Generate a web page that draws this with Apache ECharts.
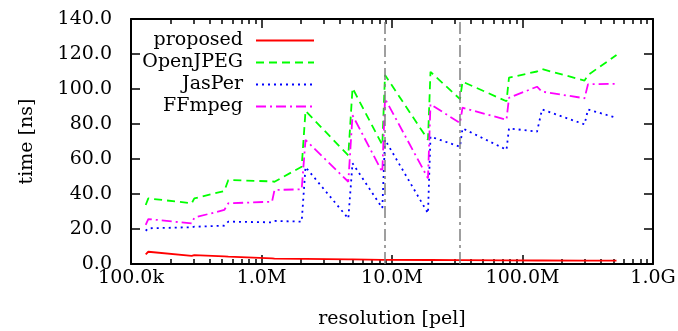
<!DOCTYPE html>
<html>
<head>
<meta charset="utf-8">
<script src="https://cdn.jsdelivr.net/npm/echarts@6/dist/echarts.min.js"></script>
<style>
html,body{margin:0;padding:0;background:#fff;}
#c{width:678px;height:331px;}
</style>
</head>
<body>
<div id="c"></div>
<script>
const resolution = [1.296e5, 1.357e5, 2.918e5, 3.056e5, 5.186e5, 5.568e5, 1.204e6, 1.258e6, 2.032e6, 2.174e6, 4.626e6, 4.983e6, 8.43e6, 8.84e6, 1.887e7, 1.972e7, 3.32e7, 3.47e7, 7.54e7, 7.88e7, 1.292e8, 1.411e8, 2.987e8, 3.176e8, 5.252e8];
const proposed = [5.5, 7.0, 4.6, 5.1, 4.3, 4.2, 3.2, 3.1, 2.9, 2.9, 2.6, 2.6, 2.4, 2.4, 2.3, 2.3, 2.2, 2.2, 2.1, 2.1, 2.0, 2.0, 1.9, 1.9, 1.9];
const openjpeg = [33.7, 37.5, 34.7, 37.5, 41.7, 48.0, 47.2, 47.0, 55.6, 87.5, 62.0, 100.5, 68.0, 108.0, 71.0, 109.8, 94.2, 104.2, 93.0, 106.5, 110.0, 111.4, 104.8, 108.0, 119.4];
const jasper = [19.0, 20.4, 21.0, 21.3, 21.9, 24.2, 23.8, 24.6, 24.2, 55.4, 26.0, 57.6, 32.0, 71.0, 29.0, 72.8, 67.0, 77.5, 65.3, 77.5, 75.6, 88.3, 79.8, 88.3, 83.5];
const ffmpeg = [22.3, 25.7, 23.2, 26.5, 30.9, 34.7, 35.6, 42.3, 42.7, 70.9, 47.0, 85.0, 52.5, 94.5, 49.0, 91.3, 80.5, 89.3, 82.4, 95.0, 101.3, 98.5, 94.7, 102.7, 103.0];
const markerRes = [8.84e6, 3.32e7];
const xMajorTicks = [1e5, 1e6, 1e7, 1e8, 1e9];
const xTickLabels = ['100.0k', '1.0M', '10.0M', '100.0M', '1.0G'];
const seriesNames = ['proposed', 'OpenJPEG', 'JasPer', 'FFmpeg'];

const xMinorTicks = [];
for (let d = 1e5; d < 1e9; d *= 10) for (let k = 2; k <= 9; k++) xMinorTicks.push(d * k);

const FONT = 'DejaVu Serif';
const fs = 19;
const frame = {show: true, lineStyle: {color: '#000', width: 2}};

function pairs(arr) { return resolution.map((x, i) => [x, arr[i]]); }

const chart = echarts.init(document.getElementById('c'));
const baseX = {type: 'log', logBase: 10, min: 1e5, max: 1e9, splitLine: {show: false}};
chart.setOption({
  animation: false,
  backgroundColor: '#fff',
  textStyle: {fontFamily: FONT},
  grid: {left: 131, right: 25, top: 19, bottom: 67, outerBoundsMode: 'none', containLabel: false},
  legend: {
    orient: 'vertical', align: 'right', right: 358, top: 26,
    itemWidth: 58, itemHeight: 14, itemGap: 3,
    itemStyle: {opacity: 0},
    textStyle: {fontFamily: FONT, fontSize: fs, lineHeight: 19, color: '#000', padding: [0, 8, 0, 0]},
    data: seriesNames
  },
  xAxis: [
    Object.assign({}, baseX, {position: 'bottom', axisLine: frame,
      axisTick: {inside: true, length: 9, customValues: xMajorTicks, lineStyle: {color: '#000', width: 1.5}},
      axisLabel: {customValues: xMajorTicks, fontFamily: FONT, fontSize: fs, color: '#000', margin: 5,
        formatter: v => { const i = xMajorTicks.findIndex(t => Math.abs(Math.log10(t) - Math.log10(v)) < 1e-6); return i >= 0 ? xTickLabels[i] : ''; }},
      name: 'resolution [pel]', nameLocation: 'middle', nameGap: 46,
      nameTextStyle: {fontFamily: FONT, fontSize: fs, color: '#000'}}),
    Object.assign({}, baseX, {position: 'bottom', axisLine: {show: false},
      axisTick: {inside: true, length: 5, customValues: xMinorTicks, lineStyle: {color: '#000', width: 1.5}},
      axisLabel: {show: false}}),
    Object.assign({}, baseX, {position: 'top', axisLine: frame,
      axisTick: {inside: true, length: 9, customValues: xMajorTicks, lineStyle: {color: '#000', width: 1.5}},
      axisLabel: {show: false}}),
    Object.assign({}, baseX, {position: 'top', axisLine: {show: false},
      axisTick: {inside: true, length: 5, customValues: xMinorTicks, lineStyle: {color: '#000', width: 1.5}},
      axisLabel: {show: false}})
  ],
  yAxis: [
    {type: 'value', min: 0, max: 140, interval: 20, position: 'left', axisLine: frame, splitLine: {show: false},
      axisTick: {inside: true, length: 9, lineStyle: {color: '#000', width: 1.5}},
      axisLabel: {fontFamily: FONT, fontSize: fs, color: '#000', margin: 19, formatter: v => v.toFixed(1)},
      name: 'time [ns]', nameLocation: 'middle', nameGap: 94, nameRotate: 90,
      nameTextStyle: {fontFamily: FONT, fontSize: fs, color: '#000'}},
    {type: 'value', min: 0, max: 140, interval: 20, position: 'right', axisLine: frame, splitLine: {show: false},
      axisTick: {inside: true, length: 9, lineStyle: {color: '#000', width: 1.5}},
      axisLabel: {show: false}}
  ],
  series: [
    {name: 'proposed', type: 'line', data: pairs(proposed), symbol: 'none', color: '#ff0000',
      lineStyle: {color: '#ff0000', width: 1.8, type: 'solid'},
      markLine: {silent: true, symbol: 'none', label: {show: false},
        lineStyle: {color: '#808080', width: 1.5, type: [12, 4, 3, 4]},
        data: markerRes.map(v => ({xAxis: v}))}},
    {name: 'OpenJPEG', type: 'line', data: pairs(openjpeg), symbol: 'none', color: '#00ff00',
      lineStyle: {color: '#00ff00', width: 1.8, type: [8, 5]}},
    {name: 'JasPer', type: 'line', data: pairs(jasper), symbol: 'none', color: '#0000ff',
      lineStyle: {color: '#0000ff', width: 1.8, type: [2, 4]}},
    {name: 'FFmpeg', type: 'line', data: pairs(ffmpeg), symbol: 'none', color: '#ff00ff',
      lineStyle: {color: '#ff00ff', width: 1.8, type: [10, 4, 2, 4]}}
  ]
});
</script>
</body>
</html>
